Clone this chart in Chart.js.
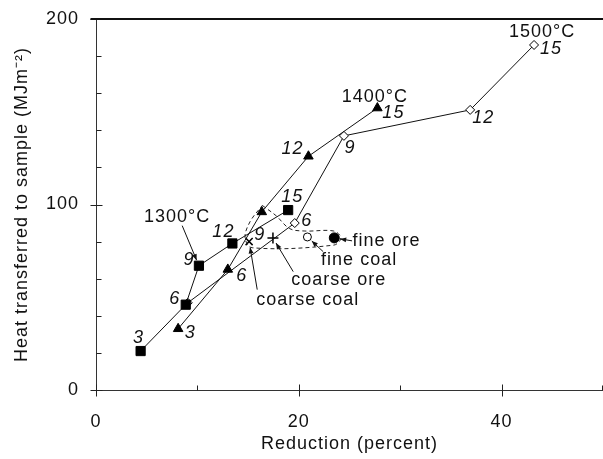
<!DOCTYPE html>
<html>
<head>
<meta charset="utf-8">
<script src="https://cdn.jsdelivr.net/npm/chart.js@4.4.1/dist/chart.umd.min.js"></script>
<style>
  html, body { margin: 0; padding: 0; background: #fff; }
  #wrap { width: 603px; height: 459px; }
</style>
</head>
<body>
<div id="wrap"><canvas id="chart" width="603" height="459"></canvas></div>
<script>
// heating time (min) used as the point tags
const times = [3, 6, 9, 12, 15];

// reduction (%) and heat transferred (MJ/m2) per furnace temperature
const red1300 = [4.4, 8.85, 10.15, 13.45, 18.95];
const heat1300 = [21, 46, 67, 79, 97];
const red1400 = [8.1, 13.0, 16.35, 20.95, 27.75];
const heat1400 = [33, 65, 96, 126, 152];
const red1500 = [9.05, 19.6, 24.45, 36.9, 43.2];
const heat1500 = [47, 90, 137, 151, 186];

// 9 min variants with coarse / fine raw materials
const variantNames = ['coarse coal', 'coarse ore', 'fine coal', 'fine ore'];
const variantRed = [15.1, 17.45, 20.85, 23.5];
const variantHeat = [80, 82, 82.5, 82];

// dashed outline around the 9 min group
const loopRed = [16.4, 17.75, 19.1, 20.6, 23.45, 24.15, 23.45, 15.4, 14.7, 15.2, 16.4];
const loopHeat = [99.5, 94, 87, 85.7, 85.7, 82, 78.1, 76.7, 82.2, 90.8, 99.5];

const xTicks = [0, 10, 20, 30, 40, 50];
const yTicks = [0, 20, 40, 60, 80, 100, 120, 140, 160, 180, 200];

const FONT = "'Liberation Sans', Arial, sans-serif";
const SIZE = 18;
const SPACING = '1px';

const pts = (xs, ys) => xs.map((x, i) => ({ x, y: ys[i] }));

// tag offsets in pixels from each marker (null = no tag)
const tagOff1300 = [[-2, -13], [-11, -6], [-10, -6], [-9, -11], [4, -13]];
const tagOff1400 = [[12, 4], [14, 7], [-2, 23], [-16, -7], [16, 5]];
const tagOff1500 = [null, [12, -2], [6, 12], [13, 8], [17, 4]];

const series = [
  { label: '1300', xs: red1300, ys: heat1300, style: 'rect', r: 6.5, fill: '#000', offs: tagOff1300 },
  { label: '1400', xs: red1400, ys: heat1400, style: 'triangle', r: 5.5, fill: '#000', offs: tagOff1400 },
  { label: '1500', xs: red1500, ys: heat1500, style: 'rectRot', r: 4.5, fill: '#fff', offs: tagOff1500 },
];

const variantStyles = ['crossRot', 'cross', 'circle', 'circle'];
const variantFill = ['#000', '#000', '#fff', '#000'];
const variantR = [5, 5.5, 4, 5];

const datasets = [{
  label: 'outline',
  data: pts(loopRed, loopHeat),
  showLine: true,
  borderColor: '#222',
  borderWidth: 1,
  borderDash: [4, 3],
  tension: 0.35,
  pointRadius: 0,
}];
series.forEach(s => datasets.push({
  label: s.label,
  data: pts(s.xs, s.ys),
  showLine: true,
  borderColor: '#111',
  borderWidth: 1,
  pointStyle: s.style,
  pointRadius: s.r,
  pointBackgroundColor: s.fill,
  pointBorderColor: '#000',
  pointBorderWidth: 1,
}));
variantNames.forEach((n, i) => datasets.push({
  label: n,
  data: [{ x: variantRed[i], y: variantHeat[i] }],
  showLine: false,
  pointStyle: variantStyles[i],
  pointRadius: variantR[i],
  pointBackgroundColor: variantFill[i],
  pointBorderColor: '#000',
  pointBorderWidth: variantStyles[i] === 'circle' ? 1 : 1.5,
}));

// text notes: position in data units, optional arrow to a target point
const notes = [
  { text: '1300°C', x: 8.0, y: 93.3, align: 'center', from: [8.5, 88.6], to: [red1300[2], heat1300[2]] },
  { text: '1400°C', x: 27.5, y: 158.0, align: 'center' },
  { text: '1500°C', x: 44.0, y: 193.2, align: 'center' },
  { text: 'fine ore', x: 25.3, y: 80.4, align: 'left', from: [25.25, 80.4], to: [variantRed[3], variantHeat[3]] },
  { text: 'fine coal', x: 22.2, y: 70.2, align: 'left', from: [22.4, 74.6], to: [variantRed[2], variantHeat[2]] },
  { text: 'coarse ore', x: 19.25, y: 59.4, align: 'left', from: [19.45, 63.8], to: [variantRed[1], variantHeat[1]] },
  { text: 'coarse coal', x: 15.8, y: 48.7, align: 'left', from: [15.9, 54.1], to: [variantRed[0], variantHeat[0]] },
];

// loose letter spacing like the original figure text
const spacing = {
  id: 'spacing',
  beforeDraw(chart) { chart.ctx.letterSpacing = SPACING; }
};

const axisMarks = {
  id: 'axisMarks',
  afterDraw(chart) {
    const { ctx, scales: { x, y } } = chart;
    ctx.save();
    ctx.strokeStyle = '#222';
    ctx.lineWidth = 1;
    const y0 = Math.round(y.getPixelForValue(0)) + 0.5;
    const x0 = Math.round(x.getPixelForValue(0)) + 0.5;
    yTicks.forEach(v => {
      const py = Math.round(y.getPixelForValue(v)) + 0.5;
      const major = v % 100 === 0;
      ctx.beginPath();
      ctx.moveTo(x0 - (major ? 6 : 0), py);
      ctx.lineTo(x0 + (major ? 6 : 5), py);
      ctx.stroke();
    });
    xTicks.forEach(v => {
      const px = Math.min(Math.round(x.getPixelForValue(v)), chart.width - 1) + 0.5;
      const major = v % 20 === 0;
      ctx.beginPath();
      ctx.moveTo(px, y0 + (major ? 6 : 0));
      ctx.lineTo(px, y0 - (major ? 6 : 5));
      ctx.stroke();
    });
    // top frame line
    ctx.lineWidth = 2;
    ctx.strokeStyle = '#111';
    const yt = Math.round(y.getPixelForValue(200));
    ctx.beginPath();
    ctx.moveTo(x0 - 6, yt);
    ctx.lineTo(chart.width, yt);
    ctx.stroke();
    ctx.restore();
  }
};

function arrow(ctx, x1, y1, x2, y2) {
  const ang = Math.atan2(y2 - y1, x2 - x1);
  const ex = x2 - Math.cos(ang) * 6, ey = y2 - Math.sin(ang) * 6;
  ctx.beginPath();
  ctx.moveTo(x1, y1);
  ctx.lineTo(ex, ey);
  ctx.stroke();
  const hx = ex - Math.cos(ang) * 6, hy = ey - Math.sin(ang) * 6;
  ctx.beginPath();
  ctx.moveTo(ex, ey);
  ctx.lineTo(hx + Math.sin(ang) * 2.5, hy - Math.cos(ang) * 2.5);
  ctx.lineTo(hx - Math.sin(ang) * 2.5, hy + Math.cos(ang) * 2.5);
  ctx.closePath();
  ctx.fill();
}

const labels = {
  id: 'labels',
  afterDatasetsDraw(chart) {
    const { ctx, scales: { x, y } } = chart;
    ctx.save();
    ctx.letterSpacing = SPACING;
    ctx.fillStyle = '#111';
    ctx.strokeStyle = '#111';
    ctx.lineWidth = 1;
    ctx.textBaseline = 'middle';
    ctx.textAlign = 'center';
    ctx.font = `italic ${SIZE}px ${FONT}`;
    series.forEach(s => {
      s.xs.forEach((v, i) => {
        const o = s.offs[i];
        if (!o) return;
        ctx.fillText(String(times[i]), x.getPixelForValue(v) + o[0], y.getPixelForValue(s.ys[i]) + o[1]);
      });
    });
    ctx.font = `${SIZE}px ${FONT}`;
    notes.forEach(n => {
      ctx.textAlign = n.align;
      ctx.fillText(n.text, x.getPixelForValue(n.x), y.getPixelForValue(n.y));
      if (n.from) {
        arrow(ctx, x.getPixelForValue(n.from[0]), y.getPixelForValue(n.from[1]),
          x.getPixelForValue(n.to[0]), y.getPixelForValue(n.to[1]));
      }
    });
    ctx.restore();
  }
};

new Chart(document.getElementById('chart'), {
  type: 'scatter',
  data: { datasets },
  options: {
    responsive: false,
    animation: false,
    layout: { autoPadding: false, padding: { top: 19, right: 0, left: 0, bottom: 0 } },
    plugins: { legend: { display: false }, tooltip: { enabled: false } },
    scales: {
      x: {
        type: 'linear',
        min: 0,
        max: 50,
        border: { display: true, color: '#333', width: 1 },
        grid: { display: false, drawTicks: false },
        ticks: {
          stepSize: 10,
          maxRotation: 0,
          padding: 21,
          color: '#111',
          font: { family: FONT, size: SIZE },
          callback: v => (v % 20 === 0 ? String(v) : ''),
        },
        title: {
          display: true,
          text: 'Reduction (percent)',
          color: '#111',
          font: { family: FONT, size: SIZE },
          padding: { top: 0, bottom: 4 },
        },
        afterFit: s => { s.height = 69; s.paddingLeft = 0; s.paddingRight = 0; },
      },
      y: {
        type: 'linear',
        min: 0,
        max: 200,
        border: { display: true, color: '#333', width: 1 },
        grid: { display: false, drawTicks: false },
        ticks: {
          stepSize: 20,
          padding: 17,
          color: '#111',
          font: { family: FONT, size: SIZE },
          callback: v => (v % 100 === 0 ? String(v) : ''),
        },
        title: {
          display: true,
          text: 'Heat transferred to sample (MJm⁻²)',
          color: '#111',
          font: { family: FONT, size: SIZE },
          padding: { top: 11, bottom: 0 },
        },
        afterFit: s => { s.width = 96; s.paddingTop = 0; s.paddingBottom = 0; },
      },
    },
  },
  plugins: [spacing, axisMarks, labels],
});
</script>
</body>
</html>
